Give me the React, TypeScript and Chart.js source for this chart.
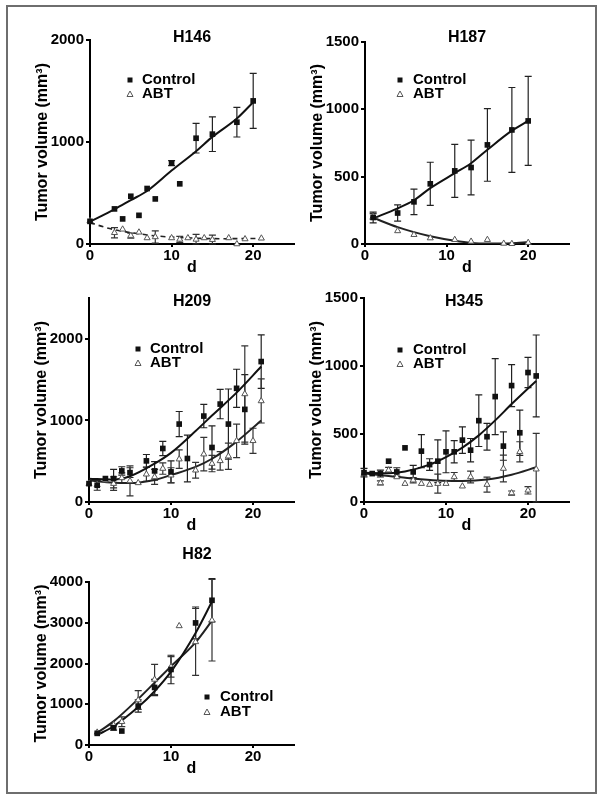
import React, { useEffect, useRef } from 'react';
import { Chart, registerables } from 'chart.js';
Chart.register(...registerables);

// ---------------- DATA ----------------
// H146
const h146Days = [0, 3, 4, 5, 6, 7, 8, 10, 11, 13, 15, 18, 20];
const h146Control = [222, 344, 246, 468, 281, 544, 442, 793, 590, 1037, 1077, 1194, 1403];
const h146ControlErr = [0, 0, 0, 0, 0, 0, 0, 25, 0, 145, 170, 145, 270];
const h146AbtDays = [0, 3, 4, 5, 6, 7, 8, 10, 11, 12, 13, 14, 15, 17, 18, 19, 21];
const h146Abt = [225, 110, 144, 82, 115, 59, 69, 59, 45, 59, 45, 59, 42, 59, 0, 49, 56];
const h146AbtErr = [0, 50, 0, 25, 0, 0, 60, 0, 30, 0, 50, 0, 45, 0, 0, 0, 0];
const h146ControlFitX = [0, 3, 5, 7, 10, 13, 15, 18, 20];
const h146ControlFit = [220, 340, 430, 520, 720, 910, 1050, 1230, 1390];
const h146AbtFitX = [0, 2, 4, 6, 8, 10, 13, 16, 21];
const h146AbtFit = [210, 160, 125, 100, 80, 68, 57, 52, 55];
const h146YTicks = [0, 1000, 2000];

// H187
const h187Days = [1, 4, 6, 8, 11, 13, 15, 18, 20];
const h187Control = [197, 230, 313, 447, 543, 568, 736, 847, 914];
const h187ControlErr = [40, 60, 95, 160, 197, 203, 270, 315, 330];
const h187AbtDays = [1, 4, 6, 8, 11, 13, 15, 17, 18, 20];
const h187Abt = [205, 97, 69, 44, 32, 19, 32, 4, 2, 10];
const h187AbtErr = [20, 0, 0, 0, 0, 0, 0, 0, 0, 0];
const h187ControlFitX = [1, 4, 6, 8, 11, 13, 15, 18, 20];
const h187ControlFit = [190, 265, 325, 415, 526, 600, 700, 842, 914];
const h187AbtFitX = [1, 4, 6, 8, 11, 13, 15, 18, 20];
const h187AbtFit = [195, 125, 88, 58, 24, 8, 3, 6, 14];
const h187YTicks = [0, 500, 1000, 1500];

// H209
const h209Days = [0, 1, 2, 3, 4, 5, 7, 8, 9, 10, 11, 12, 14, 15, 16, 17, 18, 19, 21];
const h209Control = [225, 205, 287, 287, 381, 360, 504, 381, 656, 369, 955, 533, 1053, 668, 1200, 955, 1393, 1135, 1721];
const h209ControlErr = [0, 61, 0, 113, 51, 60, 78, 113, 88, 135, 154, 287, 143, 266, 180, 430, 234, 425, 328];
const h209AbtDays = [0, 1, 2, 3, 4, 5, 6, 7, 8, 9, 10, 11, 13, 14, 15, 16, 17, 18, 19, 20, 21];
const h209Abt = [225, 210, 266, 225, 295, 258, 234, 340, 307, 410, 328, 525, 389, 586, 471, 504, 561, 750, 1324, 750, 1238];
const h209AbtErr = [0, 0, 0, 82, 61, 184, 0, 88, 92, 70, 92, 113, 96, 205, 100, 113, 160, 205, 590, 154, 270];
const h209ControlFitX = [0, 3, 5, 8, 10, 13, 15, 18, 21];
const h209ControlFit = [285, 275, 315, 470, 602, 870, 1060, 1340, 1660];
const h209AbtFitX = [0, 3, 5, 8, 10, 13, 15, 18, 21];
const h209AbtFit = [265, 235, 232, 270, 330, 430, 530, 740, 1000];
const h209YTicks = [0, 1000, 2000];

// H345
const h345Days = [0, 1, 2, 3, 4, 5, 6, 7, 8, 9, 10, 11, 12, 13, 14, 15, 16, 17, 18, 19, 20, 21];
const h345Control = [216, 209, 209, 300, 221, 398, 221, 374, 275, 300, 369, 369, 455, 381, 598, 480, 775, 411, 856, 509, 952, 927];
const h345ControlErr = [31, 0, 25, 0, 31, 0, 49, 122, 43, 157, 154, 82, 98, 86, 190, 98, 279, 104, 154, 166, 111, 301];
const h345AbtDays = [0, 2, 3, 4, 5, 6, 7, 8, 9, 10, 11, 12, 13, 15, 17, 18, 19, 20, 21];
const h345Abt = [209, 140, 234, 184, 135, 160, 135, 128, 135, 135, 184, 116, 184, 128, 246, 66, 369, 86, 241];
const h345AbtErr = [0, 15, 20, 0, 0, 20, 0, 0, 70, 0, 33, 0, 43, 55, 98, 15, 74, 27, 263];
const h345ControlFitX = [0, 3, 5, 8, 10, 12, 14, 16, 18, 20, 21];
const h345ControlFit = [215, 212, 225, 275, 330, 400, 490, 600, 720, 835, 890];
const h345AbtFitX = [0, 3, 6, 9, 12, 15, 18, 21];
const h345AbtFit = [210, 192, 172, 158, 155, 165, 200, 255];
const h345YTicks = [0, 500, 1000, 1500];

// H82
const h82Days = [1, 3, 4, 6, 8, 10, 13, 15];
const h82Control = [286, 424, 343, 955, 1412, 1853, 2996, 3551];
const h82ControlErr = [0, 60, 0, 150, 200, 350, 390, 530];
const h82AbtDays = [1, 3, 4, 6, 8, 10, 11, 13, 15];
const h82Abt = [310, 490, 571, 1102, 1608, 1918, 2922, 2530, 3061];
const h82AbtErr = [0, 0, 120, 230, 370, 250, 0, 820, 1000];
const h82ControlFitX = [1, 3, 6, 8, 10, 13, 15];
const h82ControlFit = [245, 460, 930, 1320, 1800, 2750, 3520];
const h82AbtFitX = [1, 3, 6, 8, 10, 13, 15];
const h82AbtFit = [300, 580, 1130, 1530, 1930, 2520, 3050];
const h82YTicks = [0, 1000, 2000, 3000, 4000];

// shared axis settings
const xTicks = [0, 10, 20];
const xMax = 25;
const yTitleText = 'Tumor volume (mm³)';
const xTitleText = 'd';
const legendLabels = ['Control', 'ABT'];

// ---------------- LAYOUT ----------------
const FONT = '"Liberation Sans", Arial, Helvetica, sans-serif';
const YW = 82;
const RP = 6;
const XH = 33;

type Area = { l: number; t: number; r: number; b: number };
type Spec = {
  name: string;
  days: number[]; control: number[]; controlErr: number[];
  abtDays: number[]; abt: number[]; abtErr: number[];
  cFitX: number[]; cFit: number[]; aFitX: number[]; aFit: number[];
  yMax: number; yTicks: number[]; dashed: boolean;
  area: Area; title: { x: number; y: number };
  legend: { mx: number; tx: number; y1: number; y2: number };
};

const PANELS: Spec[] = [
  {
    name: 'H146', days: h146Days, control: h146Control, controlErr: h146ControlErr,
    abtDays: h146AbtDays, abt: h146Abt, abtErr: h146AbtErr,
    cFitX: h146ControlFitX, cFit: h146ControlFit, aFitX: h146AbtFitX, aFit: h146AbtFit,
    yMax: 2000, yTicks: h146YTicks, dashed: true,
    area: { l: 90, t: 40, r: 294, b: 244 }, title: { x: 192, y: 38 },
    legend: { mx: 130, tx: 142, y1: 80, y2: 94 },
  },
  {
    name: 'H187', days: h187Days, control: h187Control, controlErr: h187ControlErr,
    abtDays: h187AbtDays, abt: h187Abt, abtErr: h187AbtErr,
    cFitX: h187ControlFitX, cFit: h187ControlFit, aFitX: h187AbtFitX, aFit: h187AbtFit,
    yMax: 1500, yTicks: h187YTicks, dashed: false,
    area: { l: 365, t: 42, r: 569, b: 244 }, title: { x: 467, y: 38 },
    legend: { mx: 400, tx: 413, y1: 80, y2: 94 },
  },
  {
    name: 'H209', days: h209Days, control: h209Control, controlErr: h209ControlErr,
    abtDays: h209AbtDays, abt: h209Abt, abtErr: h209AbtErr,
    cFitX: h209ControlFitX, cFit: h209ControlFit, aFitX: h209AbtFitX, aFit: h209AbtFit,
    yMax: 2500, yTicks: h209YTicks, dashed: false,
    area: { l: 89, t: 298, r: 294, b: 502 }, title: { x: 192, y: 302 },
    legend: { mx: 138, tx: 150, y1: 349, y2: 363 },
  },
  {
    name: 'H345', days: h345Days, control: h345Control, controlErr: h345ControlErr,
    abtDays: h345AbtDays, abt: h345Abt, abtErr: h345AbtErr,
    cFitX: h345ControlFitX, cFit: h345ControlFit, aFitX: h345AbtFitX, aFit: h345AbtFit,
    yMax: 1500, yTicks: h345YTicks, dashed: false,
    area: { l: 364, t: 298, r: 569, b: 502 }, title: { x: 464, y: 302 },
    legend: { mx: 400, tx: 413, y1: 350, y2: 364 },
  },
  {
    name: 'H82', days: h82Days, control: h82Control, controlErr: h82ControlErr,
    abtDays: h82AbtDays, abt: h82Abt, abtErr: h82AbtErr,
    cFitX: h82ControlFitX, cFit: h82ControlFit, aFitX: h82AbtFitX, aFit: h82AbtFit,
    yMax: 4000, yTicks: h82YTicks, dashed: false,
    area: { l: 89, t: 582, r: 294, b: 745 }, title: { x: 197, y: 555 },
    legend: { mx: 207, tx: 220, y1: 697, y2: 712 },
  },
];

function geom(s: Spec) {
  const top = Math.min(s.area.t - 15, s.title.y - 15);
  const tp = s.area.t - top;
  const left = s.area.l - YW;
  const width = YW + (s.area.r - s.area.l) + RP;
  const height = tp + (s.area.b - s.area.t) + XH;
  return { top, tp, left, width, height };
}

const pts = (xs: number[], ys: number[]) => xs.map((x, i) => ({ x, y: ys[i] }));

const errorBarPlugin = {
  id: 'errorBars',
  beforeDatasetsDraw(chart: any) {
    const { ctx, scales } = chart;
    const x = scales.x, y = scales.y;
    ctx.save();
    chart.data.datasets.forEach((ds: any) => {
      if (!ds.errors) return;
      ctx.strokeStyle = ds.errColor;
      ctx.lineWidth = 1.2;
      ds.data.forEach((p: any, j: number) => {
        const e = ds.errors[j];
        if (!e) return;
        const px = x.getPixelForValue(p.x);
        const top = y.getPixelForValue(p.y + e);
        const bot = y.getPixelForValue(Math.max(0, p.y - e));
        ctx.beginPath();
        ctx.moveTo(px, top); ctx.lineTo(px, bot);
        ctx.moveTo(px - 3.5, top); ctx.lineTo(px + 3.5, top);
        ctx.moveTo(px - 3.5, bot); ctx.lineTo(px + 3.5, bot);
        ctx.stroke();
      });
    });
    ctx.restore();
  },
};

const panelTextPlugin = {
  id: 'panelText',
  afterDraw(chart: any, _args: any, opts: any) {
    const { ctx } = chart;
    ctx.save();
    ctx.fillStyle = '#000';
    ctx.textBaseline = 'middle';
    ctx.font = `bold 16px ${FONT}`;
    ctx.textAlign = 'center';
    ctx.fillText(opts.title, opts.tx, opts.ty);
    ctx.font = `bold 15px ${FONT}`;
    ctx.textAlign = 'left';
    ctx.fillText(opts.labels[0], opts.ltx, opts.ly1);
    ctx.fillText(opts.labels[1], opts.ltx, opts.ly2);
    // markers
    ctx.fillStyle = '#111';
    ctx.fillRect(opts.lmx - 2.5, opts.ly1 - 2.5, 5, 5);
    ctx.strokeStyle = '#555';
    ctx.lineWidth = 1;
    ctx.beginPath();
    ctx.moveTo(opts.lmx, opts.ly2 - 3);
    ctx.lineTo(opts.lmx + 3, opts.ly2 + 2.5);
    ctx.lineTo(opts.lmx - 3, opts.ly2 + 2.5);
    ctx.closePath();
    ctx.stroke();
    ctx.restore();
  },
};

function Panel({ spec }: { spec: Spec }) {
  const ref = useRef<HTMLCanvasElement | null>(null);
  const g = geom(spec);
  useEffect(() => {
    if (!ref.current) return;
    const tickFont = { family: FONT, size: 15, weight: 'bold' as const };
    const chart = new Chart(ref.current, {
      type: 'scatter',
      data: {
        datasets: [
          {
            label: legendLabels[0], data: pts(spec.days, spec.control),
            pointStyle: 'rect', pointRadius: 4, backgroundColor: '#111', borderColor: '#111', borderWidth: 0,
            clip: false, errors: spec.controlErr, errColor: '#222',
          } as any,
          {
            label: legendLabels[1], data: pts(spec.abtDays, spec.abt),
            pointStyle: 'triangle', pointRadius: 3.5, backgroundColor: '#fff', borderColor: '#555', borderWidth: 1,
            clip: false, errors: spec.abtErr, errColor: '#333',
          } as any,
          {
            label: 'Control fit', data: pts(spec.cFitX, spec.cFit), showLine: true,
            pointRadius: 0, borderColor: '#111', borderWidth: 2, tension: 0.4, cubicInterpolationMode: 'monotone',
          } as any,
          {
            label: 'ABT fit', data: pts(spec.aFitX, spec.aFit), showLine: true,
            pointRadius: 0, borderColor: '#222', borderWidth: spec.dashed ? 1.6 : 2,
            borderDash: spec.dashed ? [5, 4] : [], tension: 0.4, cubicInterpolationMode: 'monotone',
          } as any,
        ],
      },
      options: {
        responsive: false,
        animation: false,
        events: [],
        layout: { padding: { top: g.tp, right: RP, left: 0, bottom: 0 } },
        plugins: {
          legend: { display: false },
          tooltip: { enabled: false },
          panelText: {
            title: spec.name,
            tx: spec.title.x - g.left, ty: spec.title.y - g.top,
            labels: legendLabels,
            lmx: spec.legend.mx - g.left, ltx: spec.legend.tx - g.left,
            ly1: spec.legend.y1 - g.top, ly2: spec.legend.y2 - g.top,
          },
        } as any,
        scales: {
          x: {
            type: 'linear', min: 0, max: xMax, bounds: 'data',
            afterFit: (s: any) => { s.height = XH; },
            afterBuildTicks: (s: any) => { s.ticks = xTicks.map((v) => ({ value: v })); },
            ticks: { color: '#000', font: tickFont, padding: 0, maxRotation: 0, autoSkip: false, callback: (v: any) => String(v) },
            grid: { drawOnChartArea: false, drawTicks: true, tickLength: 3, color: '#000', lineWidth: 2 },
            border: { display: true, color: '#000', width: 2 },
            title: { display: true, text: xTitleText, color: '#000', font: { family: FONT, size: 16, weight: 'bold' }, padding: { top: 0, bottom: 0 } },
          },
          y: {
            type: 'linear', min: 0, max: spec.yMax, bounds: 'data',
            afterFit: (s: any) => { s.width = YW; },
            afterBuildTicks: (s: any) => { s.ticks = spec.yTicks.map((v) => ({ value: v })); },
            ticks: { color: '#000', font: tickFont, padding: 2, autoSkip: false, callback: (v: any) => String(v) },
            grid: { drawOnChartArea: false, drawTicks: true, tickLength: 4, color: '#000', lineWidth: 2 },
            border: { display: true, color: '#000', width: 2 },
            title: { display: true, text: yTitleText, color: '#000', font: { family: FONT, size: 16, weight: 'bold' }, padding: { top: 25.4, bottom: 0 } },
          },
        },
      } as any,
      plugins: [errorBarPlugin, panelTextPlugin],
    });
    return () => chart.destroy();
  }, [spec]);
  return (
    <canvas
      ref={ref}
      width={g.width}
      height={g.height}
      style={{ position: 'absolute', left: g.left, top: g.top, width: g.width, height: g.height }}
    />
  );
}

export default function App() {
  return (
    <div style={{ position: 'absolute', left: 0, top: 0, width: 602, height: 807, background: '#fff' }}>
      <div
        style={{
          position: 'absolute', left: 6, top: 5, width: 591, height: 789,
          border: '2px solid #6e6e6e', boxSizing: 'border-box',
        }}
      />
      {PANELS.map((p) => (
        <Panel key={p.name} spec={p} />
      ))}
    </div>
  );
}
